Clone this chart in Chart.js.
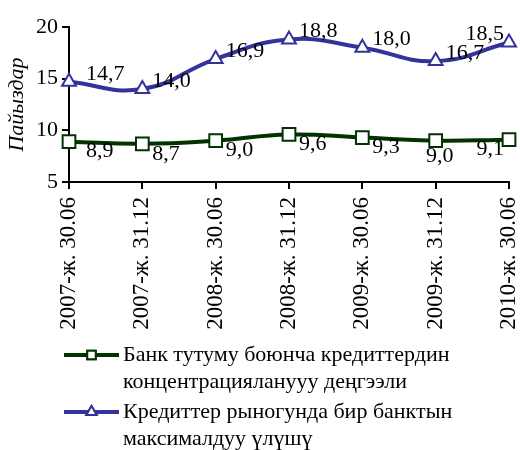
<!DOCTYPE html>
<html>
<head>
<meta charset="utf-8">
<script src="https://cdn.jsdelivr.net/npm/chart.js@4"></script>
<style>
  body { margin: 0; background: #fff; }
  canvas { display: block; }
</style>
</head>
<body>
<canvas id="grafica" width="520" height="450"></canvas>
<script>
const fechas = ["2007-ж. 30.06", "2007-ж. 31.12", "2008-ж. 30.06", "2008-ж. 31.12",
  "2009-ж. 30.06", "2009-ж. 31.12", "2010-ж. 30.06"];
const concentracion = [8.9, 8.7, 9.0, 9.6, 9.3, 9.0, 9.1];
const cuotaMaxima = [14.7, 14.0, 16.9, 18.8, 18.0, 16.7, 18.5];
const nombreConcentracion = ["Банк тутуму боюнча кредиттердин", "концентрацияланууу деңгээли"];
const nombreCuota = ["Кредиттер рыногунда бир банктын", "максималдуу үлүшү"];
const ticksY = [5, 10, 15, 20];

// dónde va cada etiqueta: d = derecha, a = abajo centrada, i = izquierda
const posVerde = ["d", "d", "d", "d", "d", "a", "i"];
const posAzul = ["d", "d", "d", "d", "d", "d", "i"];

const FUENTE = "'Liberation Serif', 'Times New Roman', serif";
const VERDE = "#003300";
const AZUL = "#333399";

// etiquetas de valores al lado de cada punto
const etiquetas = {
  id: "etiquetas",
  afterDatasetsDraw(chart) {
    const ctx = chart.ctx;
    ctx.save();
    ctx.font = "22px " + FUENTE;
    ctx.fillStyle = "#000";
    ctx.textBaseline = "middle";
    chart.data.datasets.forEach((ds, i) => {
      const meta = chart.getDatasetMeta(i);
      meta.data.forEach((p, j) => {
        const txt = ds.data[j].toFixed(1).replace(".", ",");
        const dy = ds.etiquetaAbajo ? 10 : -8;
        const dx = j === 0 ? 17 : 10;
        const pos = ds.posiciones[j];
        if (pos === "i") {
          ctx.textAlign = "right";
          ctx.fillText(txt, p.x - 5, p.y + dy);
        } else if (pos === "a") {
          ctx.textAlign = "center";
          ctx.fillText(txt, p.x + 4, p.y + 16);
        } else {
          ctx.textAlign = "left";
          ctx.fillText(txt, p.x + dx, p.y + dy);
        }
      });
    });
    ctx.restore();
  }
};

// leyenda debajo con texto en dos líneas
const leyenda = {
  id: "leyenda",
  afterDraw(chart) {
    const ctx = chart.ctx;
    ctx.save();
    const filas = [
      { y: 355, color: VERDE, marca: "rect", texto: nombreConcentracion },
      { y: 412, color: AZUL, marca: "triangle", texto: nombreCuota }
    ];
    filas.forEach(f => {
      ctx.strokeStyle = f.color;
      ctx.lineWidth = 4;
      ctx.beginPath();
      ctx.moveTo(64, f.y);
      ctx.lineTo(119, f.y);
      ctx.stroke();
      ctx.fillStyle = "#fff";
      ctx.lineWidth = 2;
      Chart.helpers.drawPoint(ctx, { pointStyle: f.marca, radius: 6, borderWidth: 2 }, 91.5, f.y);
      ctx.fill();
      ctx.stroke();
      ctx.fillStyle = "#000";
      ctx.font = "22px " + FUENTE;
      ctx.textAlign = "left";
      ctx.textBaseline = "middle";
      f.texto.forEach((linea, k) => ctx.fillText(linea, 123, f.y + k * 27));
    });
    ctx.restore();
  }
};

new Chart(document.getElementById("grafica"), {
  type: "line",
  data: {
    labels: fechas,
    datasets: [
      {
        label: nombreConcentracion.join(" "),
        data: concentracion,
        borderColor: VERDE,
        borderWidth: 4,
        backgroundColor: "#fff",
        pointStyle: "rect",
        pointRadius: 9,
        pointBorderWidth: 2,
        pointBackgroundColor: "#fff",
        tension: 0.45,
        etiquetaAbajo: true,
        posiciones: posVerde
      },
      {
        label: nombreCuota.join(" "),
        data: cuotaMaxima,
        borderColor: AZUL,
        borderWidth: 4,
        backgroundColor: "#fff",
        pointStyle: "triangle",
        pointRadius: 8,
        pointBorderWidth: 2,
        pointBackgroundColor: "#fff",
        tension: 0.45,
        etiquetaAbajo: false,
        posiciones: posAzul
      }
    ]
  },
  options: {
    responsive: false,
    animation: false,
    layout: { padding: { top: 27, right: 0, left: 4, bottom: 0 } },
    plugins: {
      legend: { display: false },
      tooltip: { enabled: false }
    },
    scales: {
      x: {
        offset: false,
        grid: { drawOnChartArea: false, drawTicks: true, tickLength: 7, color: "#000", lineWidth: 2, offset: false },
        border: { display: true, color: "#000", width: 2 },
        ticks: {
          color: "#000",
          font: { family: FUENTE, size: 23 },
          minRotation: 90,
          maxRotation: 90,
          autoSkip: false,
          padding: 8
        },
        afterFit(scale) {
          scale.height = 268;
          scale.paddingLeft = 0;
          scale.paddingRight = 10;
        }
      },
      y: {
        min: 5,
        max: 20,
        afterBuildTicks(scale) { scale.ticks = ticksY.map(v => ({ value: v })); },
        grid: { drawOnChartArea: false, drawTicks: true, tickLength: 7, color: "#000", lineWidth: 2 },
        border: { display: true, color: "#000", width: 2 },
        ticks: {
          color: "#000",
          font: { family: FUENTE, size: 22 },
          padding: 4
        },
        title: {
          display: true,
          text: "Пайыздар",
          color: "#000",
          font: { family: FUENTE, size: 22, style: "italic" },
          padding: { top: 0, bottom: 0 }
        },
        afterFit(scale) {
          scale.width = 65;
          scale.paddingTop = 0;
          scale.paddingBottom = 0;
        }
      }
    }
  },
  plugins: [etiquetas, leyenda]
});
</script>
</body>
</html>
